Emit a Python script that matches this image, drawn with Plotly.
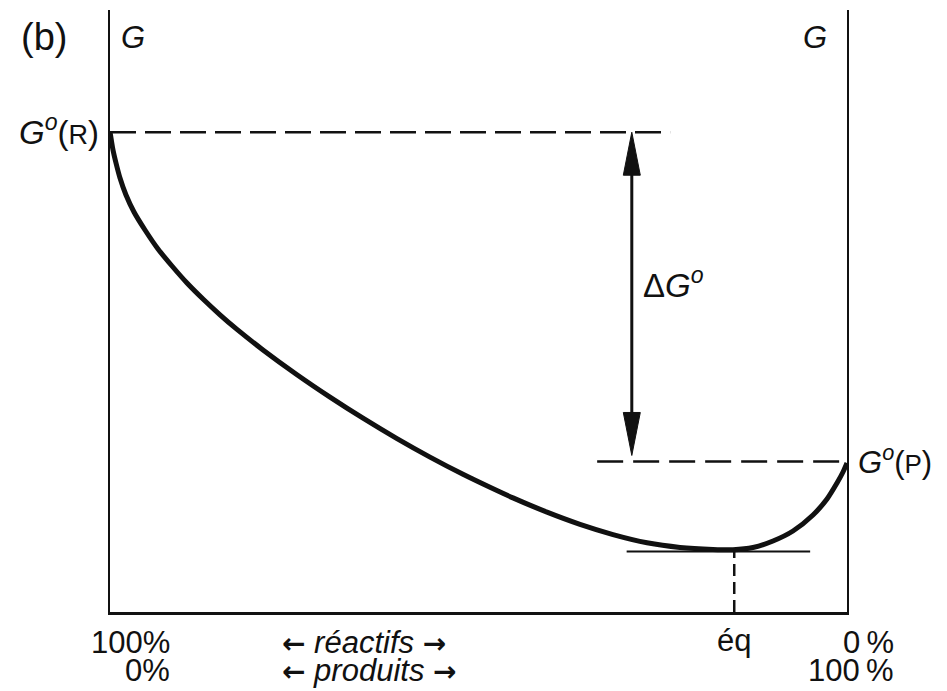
import plotly.graph_objects as go

# ---------------- data ----------------
# x : % of products (0 = 100 % reactants, 100 = 100 % products)
# G : free energy, arbitrary units (0 = bottom axis, 100 = top of axes)
curve_x = [0.000, 0.176, 0.407, 0.814, 1.357, 2.171, 3.256, 4.749, 6.513, 8.412,
           10.448, 12.619, 14.925, 17.232, 20.760, 25.373, 29.851, 34.328, 38.942,
           43.419, 47.897, 51.560, 54.681, 59.294, 63.772, 68.250, 72.863, 77.341,
           81.818, 84.532, 87.246, 89.959, 92.673, 95.387, 97.287, 98.643, 99.457,
           100.0]
curve_g = [79.734, 78.405, 76.744, 74.585, 72.093, 69.269, 66.445, 63.455, 60.299,
           57.475, 54.651, 51.993, 49.369, 46.944, 43.538, 39.419, 35.698, 32.193,
           28.804, 25.731, 22.874, 20.714, 18.953, 16.578, 14.551, 12.857, 11.495,
           10.731, 10.399, 10.349, 10.714, 11.794, 13.455, 16.113, 18.771, 21.429,
           23.256, 24.751]

G_R = 79.7           # G°(R)
G_P = 25.0           # G°(P)
G_MIN = 10.05        # level of the tangent at equilibrium
EQ_X = 84.7          # equilibrium composition
GR_LINE_X = [0, 76.0]        # extent of the G°(R) dashed line
GP_LINE_X = [66.1, 100]      # extent of the G°(P) dashed line
TANGENT_X = [70.1, 95.0]     # extent of the tangent line
ARROW_X = 70.8               # position of the ΔG° arrow

X_RANGE = [0, 100]
Y_RANGE = [0, 100]

left_labels = ["100%", "0%"]
right_labels = ["0\u2009%", "100\u2009%"]
middle_words = ["réactifs", "produits"]

# ---------------- layout geometry / styles ----------------
BODY = 8                        # default page margin of the html body
PL, PR, PT, PB = 110, 847, 10, 612   # plot area in window pixels
W, H = 947 - BODY, 691 - BODY
PW, PH = PR - PL, PB - PT
ML, MT = PL - BODY, PT - BODY
MR, MB = W - (PR - BODY), H - (PB - BODY)
px_x = (X_RANGE[1] - X_RANGE[0]) / PW     # data units per pixel (x)
px_y = (Y_RANGE[1] - Y_RANGE[0]) / PH     # data units per pixel (y)

def paper_x(px):
    return (px - PL) / PW

def paper_y(py):
    return (PB - py) / PH

INK = "#111111"
FONT = "Liberation Sans, Arial, Helvetica, sans-serif"
HEAD_LEN = 43 * px_y
HEAD_HALF = 8.5 * px_x
ARROW_L = "<span style='font-family:DejaVu Sans;font-weight:bold;font-size:28px'>←</span>"
ARROW_R = "<span style='font-family:DejaVu Sans;font-weight:bold;font-size:28px'>→</span>"

fig = go.Figure()

# G curve
fig.add_trace(go.Scatter(x=curve_x, y=curve_g, mode="lines",
                         line=dict(color=INK, width=5, shape="spline", smoothing=0.8),
                         hoverinfo="skip"))

# dashed level lines
fig.add_trace(go.Scatter(x=GR_LINE_X, y=[G_R, G_R], mode="lines",
                         line=dict(color=INK, width=2.5, dash="26px,9px"), hoverinfo="skip"))
fig.add_trace(go.Scatter(x=GP_LINE_X, y=[G_P, G_P], mode="lines",
                         line=dict(color=INK, width=2.5, dash="26px,10px"), hoverinfo="skip"))

# tangent at the minimum
fig.add_trace(go.Scatter(x=TANGENT_X, y=[G_MIN, G_MIN], mode="lines",
                         line=dict(color=INK, width=2), hoverinfo="skip"))

# equilibrium dashed vertical
fig.add_trace(go.Scatter(x=[EQ_X, EQ_X], y=[Y_RANGE[0], G_MIN], mode="lines",
                         line=dict(color=INK, width=2.5, dash="12px,6px"), hoverinfo="skip"))

# ΔG° double arrow : shaft
fig.add_trace(go.Scatter(x=[ARROW_X, ARROW_X], y=[G_R - HEAD_LEN * 0.8, G_P + HEAD_LEN * 0.8],
                         mode="lines", line=dict(color=INK, width=3), hoverinfo="skip"))
# heads
fig.add_trace(go.Scatter(x=[ARROW_X, ARROW_X - HEAD_HALF, ARROW_X + HEAD_HALF, ARROW_X],
                         y=[G_R, G_R - HEAD_LEN, G_R - HEAD_LEN, G_R],
                         mode="lines", fill="toself", fillcolor=INK,
                         line=dict(color=INK, width=1), hoverinfo="skip"))
fig.add_trace(go.Scatter(x=[ARROW_X, ARROW_X - HEAD_HALF, ARROW_X + HEAD_HALF, ARROW_X],
                         y=[G_P + 1.0, G_P + 1.0 + HEAD_LEN, G_P + 1.0 + HEAD_LEN, G_P + 1.0],
                         mode="lines", fill="toself", fillcolor=INK,
                         line=dict(color=INK, width=1), hoverinfo="skip"))

# invisible trace to carry the right-hand axis
fig.add_trace(go.Scatter(x=[X_RANGE[1]], y=[G_P], yaxis="y2", mode="markers",
                         marker=dict(opacity=0), hoverinfo="skip"))

ann = []
def A(text, size=31, **kw):
    d = dict(text=text, showarrow=False, font=dict(family=FONT, size=size, color=INK))
    d.update(kw)
    ann.append(d)

A("(b)", size=38, xref="paper", yref="paper", x=paper_x(44), y=paper_y(37),
  xanchor="center", yanchor="middle")
A("<i>G</i>", xref="paper", yref="paper", x=0, y=paper_y(38),
  xanchor="left", yanchor="middle", xshift=9)
A("<i>G</i>", xref="paper", yref="paper", x=1, y=paper_y(38),
  xanchor="right", yanchor="middle", xshift=-18)
A("<i>G</i><sup><i>o</i></sup>(<span style='font-size:27px'>R</span>)", size=33,
  xref="paper", yref="y", x=0, y=G_R, xanchor="right", yanchor="middle", xshift=-9, yshift=2)
A("<i>G</i><sup><i>o</i></sup>(<span style='font-size:26px'>P</span>)",
  xref="paper", yref="y", x=1, y=G_P, xanchor="left", yanchor="middle", xshift=9, yshift=2)
A("Δ<i>G</i><sup><i>o</i></sup>", size=33, xref="x", yref="y", x=ARROW_X,
  y=(G_R + G_P) / 2, xanchor="left", yanchor="middle", xshift=9, yshift=14)
A("éq", xref="x", yref="paper", x=EQ_X, y=0, xanchor="center", yanchor="middle", yshift=-28)

for i, t in enumerate(left_labels):
    A(t, xref="paper", yref="paper", x=0, y=0, xanchor="right", yanchor="middle",
      xshift=62, yshift=-30 - 28 * i)
for i, t in enumerate(right_labels):
    A(t, xref="paper", yref="paper", x=1, y=0, xanchor="right", yanchor="middle",
      xshift=49, yshift=-30 - 28 * i)
for i, t in enumerate(middle_words):
    A(ARROW_L + " <i>" + t + "</i> " + ARROW_R, xref="paper", yref="paper",
      x=paper_x(364 + 5 * i), y=0, xanchor="center", yanchor="middle", yshift=-30 - 28 * i)

axis_common = dict(showgrid=False, zeroline=False, showticklabels=False, ticks="",
                   fixedrange=True)
fig.update_layout(
    width=W, height=H, margin=dict(l=ML, r=MR, t=MT, b=MB, pad=0),
    paper_bgcolor="white", plot_bgcolor="white", showlegend=False,
    xaxis=dict(range=X_RANGE, showline=True, linecolor=INK, linewidth=2.5, **axis_common),
    yaxis=dict(range=Y_RANGE, showline=True, linecolor=INK, linewidth=2, **axis_common),
    yaxis2=dict(range=Y_RANGE, overlaying="y", side="right", showline=True,
                linecolor=INK, linewidth=2, **axis_common),
    annotations=ann,
)

fig.write_html("out.html")
